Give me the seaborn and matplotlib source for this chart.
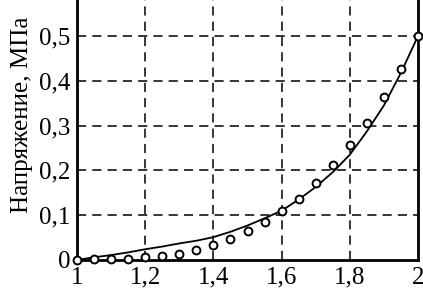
import matplotlib
matplotlib.use("Agg")
import matplotlib.pyplot as plt
import matplotlib.ticker as mticker
import numpy as np
import pandas as pd
import seaborn as sns

# measured points (circles)
x_points = [1.00, 1.05, 1.10, 1.15, 1.20, 1.25, 1.30, 1.35, 1.40, 1.45, 1.50,
            1.55, 1.60, 1.65, 1.70, 1.75, 1.80, 1.85, 1.90, 1.95, 2.00]
y_points = [0.000, 0.003, 0.002, 0.003, 0.006, 0.010, 0.014, 0.023, 0.033, 0.047, 0.064,
            0.085, 0.110, 0.137, 0.173, 0.211, 0.257, 0.305, 0.364, 0.426, 0.500]

# fitted curve (solid line)
x_curve = [1.00, 1.05, 1.10, 1.15, 1.20, 1.25, 1.30, 1.35, 1.40, 1.45, 1.50,
           1.55, 1.60, 1.65, 1.70, 1.75, 1.80, 1.85, 1.90, 1.95, 2.00]
y_curve = [0.000, 0.006, 0.011, 0.017, 0.024, 0.030, 0.037, 0.043, 0.051, 0.063, 0.077,
           0.093, 0.110, 0.135, 0.163, 0.196, 0.235, 0.287, 0.345, 0.418, 0.500]

x_ticks = [1.0, 1.2, 1.4, 1.6, 1.8, 2.0]
y_ticks = [0.0, 0.1, 0.2, 0.3, 0.4, 0.5]
y_label = "Напряжение, МПа"

sns.set_style("white")
plt.rcParams["font.family"] = ["Liberation Serif", "DejaVu Serif"]

points = pd.DataFrame({"x": x_points, "y": y_points})
curve = pd.DataFrame({"x": x_curve, "y": y_curve})

fig = plt.figure(figsize=(4.23, 2.93), dpi=100)
ax = fig.add_axes([77 / 423, 33 / 293, 341 / 423, 260 / 293])

sns.lineplot(data=curve, x="x", y="y", ax=ax, color="black", linewidth=1.3, zorder=3)
sns.scatterplot(data=points, x="x", y="y", ax=ax, marker="o", s=32,
                facecolor="white", edgecolor="black", linewidth=1.4, zorder=4,
                clip_on=False)

ax.set_xlim(1.0, 2.0)
ax.set_ylim(0, 0.5804)
ax.set_xticks(x_ticks)
ax.set_yticks(y_ticks)

def comma_fmt(v, pos):
    s = f"{v:.1f}".rstrip("0").rstrip(".")
    return s.replace(".", ",")

ax.xaxis.set_major_formatter(mticker.FuncFormatter(comma_fmt))
ax.yaxis.set_major_formatter(mticker.FuncFormatter(comma_fmt))
ax.tick_params(axis="both", length=0, labelsize=18, colors="black", pad=5)

for v in x_ticks[1:-1]:
    ax.axvline(v, color="black", linestyle=(0, (6, 4)), linewidth=1.1, zorder=1)
for v in y_ticks[1:]:
    ax.axhline(v, color="black", linestyle=(0, (6, 4)), linewidth=1.1, zorder=1)

ax.set_xlabel("")
ax.set_ylabel(y_label, fontsize=18, color="black")
ax.yaxis.set_label_coords(-0.13, 0.56)

ax.spines["top"].set_visible(False)
for side in ["left", "bottom", "right"]:
    ax.spines[side].set_color("black")
    ax.spines[side].set_linewidth(2.0)

fig.savefig("out.png", dpi=100)
